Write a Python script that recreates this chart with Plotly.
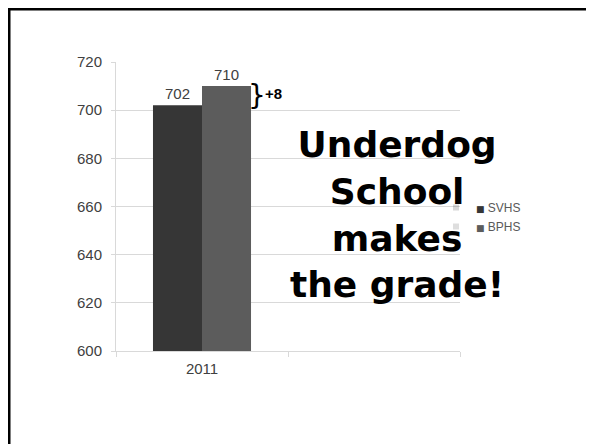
import plotly.graph_objects as go

years = ["2011"]
svhs = [702]
bphs = [710]
series_names = ["SVHS", "BPHS"]
series_colors = ["#363636", "#5c5c5c"]
y_ticks = [600, 620, 640, 660, 680, 700, 720]
diff_label = "+8"
headline = "Underdog<br>School<br>makes<br>the grade!"

W, H = 594, 444
OFF = 8  # page body margin
# plot area in page pixels: x 116..460, y 62..351
ml, mr, mt = 116 - OFF, W - (460 - OFF), 62 - OFF
mb = H - (351 - OFF)
pw, ph = W - ml - mr, H - mt - mb

def px(x):
    return (x - OFF - ml) / pw

def py(y):
    return (H - mb - (y - OFF)) / ph

xpos = list(range(len(years)))

fig = go.Figure()
for name, vals, col in zip(series_names, [svhs, bphs], series_colors):
    fig.add_trace(go.Bar(x=xpos, y=vals, name=name, marker=dict(color=col, line=dict(width=0)),
                         text=vals, textposition="outside", textfont=dict(size=15, color="#404040"),
                         cliponaxis=False, showlegend=False))
    legend_name = f"<span style='color:{col};font-size:9px;font-family:DejaVu Sans'>■</span> {name}"
    fig.add_trace(go.Scatter(x=[None], y=[None], mode="markers", name=legend_name,
                             marker=dict(symbol="square", size=6, color=col, opacity=0), showlegend=True))

fig.update_layout(
    width=W, height=H,
    margin=dict(l=ml, r=mr, t=mt, b=mb, pad=0, autoexpand=False),
    paper_bgcolor="white", plot_bgcolor="white",
    barmode="group", bargap=0.43, bargroupgap=0,
    font=dict(family="Liberation Sans, Arial, sans-serif", color="#404040"),
    showlegend=True,
    legend=dict(x=px(436), y=py(193), xanchor="left", yanchor="top",
                font=dict(size=12, color="#595959"), itemwidth=30,
                tracegroupgap=0, bgcolor="rgba(0,0,0,0)"),
    xaxis=dict(range=[-0.5, 1.5], tickvals=xpos, ticktext=years, ticks="",
               showgrid=False, zeroline=False, showline=True, linecolor="#d9d9d9", linewidth=1,
               tickfont=dict(size=15, color="#404040"), ticklabelstandoff=4,
               minor=dict(tickvals=[-0.5, 0.5, 1.5], ticks="outside", ticklen=5, tickcolor="#d9d9d9", showgrid=False)),
    yaxis=dict(range=[600, 720], tickvals=y_ticks, ticks="outside", ticklen=4, tickcolor="#d9d9d9",
               showgrid=True, gridcolor="#d9d9d9", gridwidth=1, zeroline=False,
               showline=True, linecolor="#d9d9d9", linewidth=1, ticklabelstandoff=6,
               tickfont=dict(size=15, color="#404040")),
)

# brace and difference label
fig.add_annotation(x=px(257), y=(svhs[0] + bphs[0]) / 2, xref="paper", yref="y", text="}", showarrow=False,
                   font=dict(size=28, color="black", family="DejaVu Sans"), xanchor="center", yanchor="middle")
fig.add_annotation(x=px(263), y=py(93), xref="paper", yref="paper", text="<b>" + diff_label + "</b>", showarrow=False,
                   font=dict(size=15, color="black"), xanchor="left", yanchor="middle")

# headline
fig.add_annotation(x=px(397), y=py(214), xref="paper", yref="paper", text=headline, showarrow=False,
                   font=dict(size=36, color="black", family="DejaVu Sans", weight="bold"), align="center",
                   xanchor="center", yanchor="middle")

# slide frame
fig.add_shape(type="rect", xref="paper", yref="paper", x0=px(9), x1=px(640), y0=py(520), y1=py(9),
              line=dict(color="black", width=3), layer="above")

fig.write_html("out.html")
